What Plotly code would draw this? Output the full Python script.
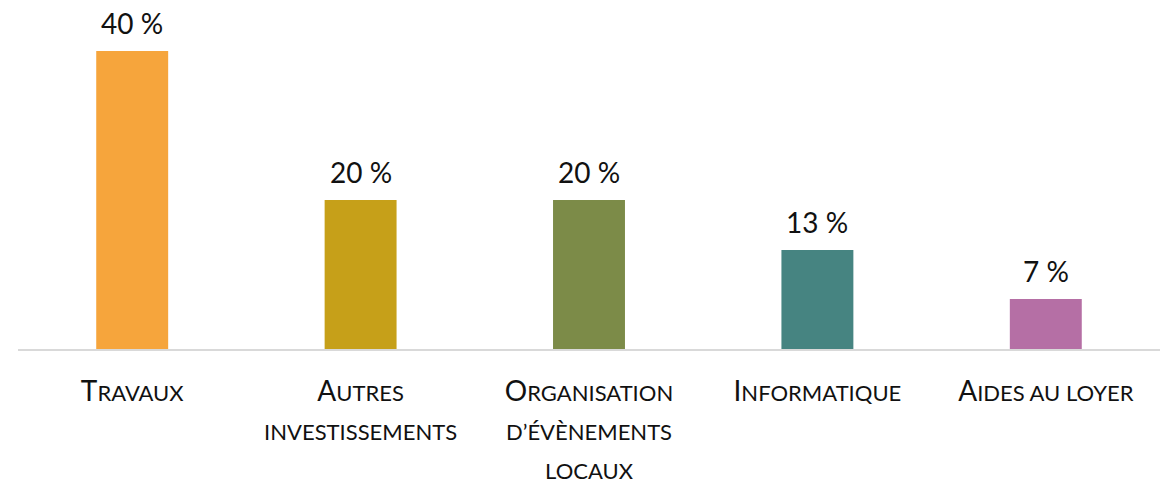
import plotly.graph_objects as go

categories = ["Travaux", "Autres investissements", "Organisation d'évènements locaux", "Informatique", "Aides au loyer"]
values = [40, 20, 20, 13.3, 6.7]
value_labels = ["40 %", "20 %", "20 %", "13 %", "7 %"]
tick_labels = [
    ["T|RAVAUX"],
    ["A|UTRES", "|INVESTISSEMENTS"],
    ["O|RGANISATION", "|D\u2019ÉVÈNEMENTS", "|LOCAUX"],
    ["I|NFORMATIQUE"],
    ["A|IDES AU LOYER"],
]
colors = ["#F6A53C", "#C6A019", "#7C8B48", "#468481", "#B56FA5"]

FONT = "Lato"
BIG = 28
SMALL = 22
TEXT_COLOR = "#111111"


def small_caps(lines):
    out = []
    for ln in lines:
        big, small = ln.split("|")
        s = ""
        if big:
            s += f"<span style='font-size:{BIG}px'>{big}</span>"
        s += f"<span style='font-size:{SMALL}px'>{small}</span>"
        out.append(s)
    return "<br>".join(out)


ticktext = [small_caps(t) for t in tick_labels]

fig = go.Figure(
    go.Bar(
        x=categories,
        y=values,
        marker=dict(color=colors, line=dict(width=0)),
        width=0.315,
        hoverinfo="skip",
    )
)

for c, v, lab in zip(categories, values, value_labels):
    fig.add_annotation(
        x=c, y=v, text=lab, showarrow=False, yanchor="bottom",
        yshift=9, font=dict(family=FONT, size=28, color=TEXT_COLOR),
    )

fig.update_layout(
    width=1168,
    height=484,
    margin=dict(l=18, r=8, t=10, b=135),
    plot_bgcolor="white",
    paper_bgcolor="white",
    showlegend=False,
)
fig.update_xaxes(
    tickmode="array",
    tickvals=categories,
    ticktext=ticktext,
    tickfont=dict(family=FONT, size=30, color=TEXT_COLOR),
    showline=True,
    linecolor="#D9D9D9",
    linewidth=2,
    ticks="",
    showgrid=False,
    automargin=False,
    ticklabelstandoff=14,
)
fig.update_yaxes(visible=False, range=[0, 45.5])

fig.write_html(
    "out.html",
    config={"displayModeBar": False, "staticPlot": True},
    post_script="document.body.style.margin='0';",
)
